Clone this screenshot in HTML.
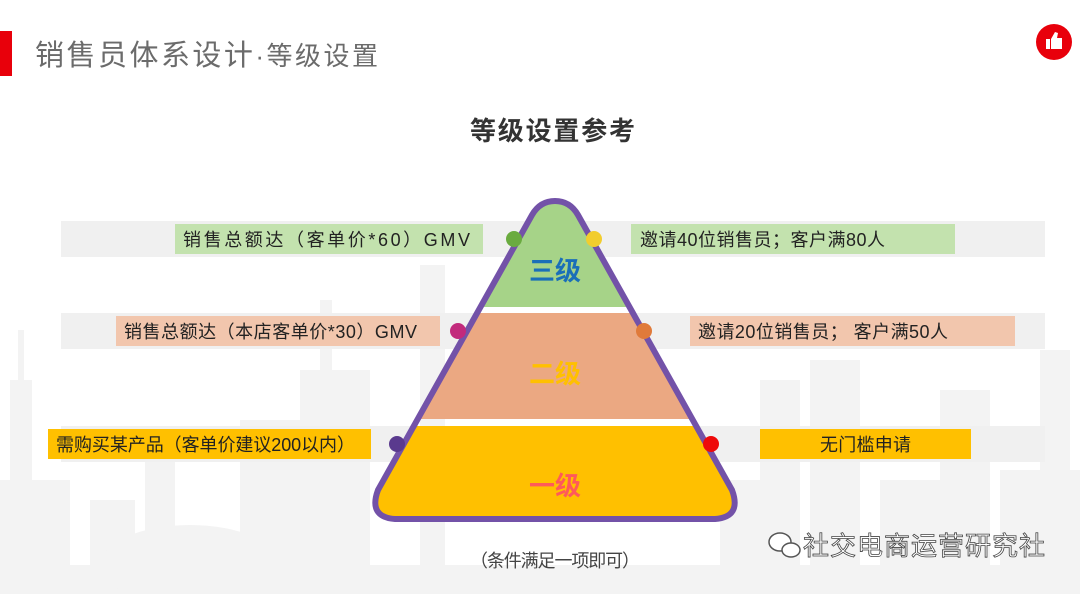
<!DOCTYPE html>
<html><head><meta charset="utf-8"><style>
body{margin:0;width:1080px;height:594px;overflow:hidden;background:#fff;font-family:"Liberation Sans","Noto Sans CJK SC",sans-serif;}
</style></head><body>
<svg width="1080" height="594" viewBox="0 0 1080 594" xmlns="http://www.w3.org/2000/svg" font-family="Liberation Sans, Noto Sans CJK SC, sans-serif">
<g fill="#f3f3f3">
<rect x="0" y="565" width="1080" height="29"/>
<rect x="0" y="480" width="70" height="114"/>
<rect x="10" y="380" width="22" height="214"/>
<rect x="18" y="330" width="6" height="60"/>
<rect x="90" y="500" width="45" height="94"/>
<ellipse cx="190" cy="565" rx="90" ry="40"/>
<rect x="145" y="430" width="30" height="164"/>
<rect x="240" y="420" width="60" height="174"/>
<rect x="300" y="370" width="70" height="224"/>
<rect x="320" y="300" width="12" height="80"/>
<rect x="420" y="265" width="25" height="329"/>
<rect x="720" y="480" width="60" height="114"/>
<rect x="760" y="380" width="40" height="214"/>
<rect x="810" y="360" width="50" height="234"/>
<rect x="880" y="480" width="60" height="114"/>
<rect x="940" y="390" width="50" height="204"/>
<rect x="1000" y="470" width="80" height="124"/>
<rect x="1040" y="350" width="30" height="244"/>
</g>
<rect x="0" y="31" width="12" height="45" fill="#e8000b"/>
<text x="35" y="65" font-size="29" fill="#6b6b6b" textLength="343">销售员体系设计<tspan font-size="26">·等级设置</tspan></text>
<circle cx="1054" cy="42" r="18" fill="#e8000b"/>
<rect x="1046" y="39" width="4" height="10" fill="#fff"/>
<path d="M1051 39 L1055 32 L1058 33 L1057 38 L1062 38 L1062 49 L1051 49 Z" fill="#fff"/>
<text x="470" y="140" font-size="26" font-weight="bold" fill="#333" textLength="165">等级设置参考</text>
<rect x="61" y="221" width="984" height="36" fill="#f0f0f0"/>
<rect x="61" y="313" width="984" height="36" fill="#f0f0f0"/>
<rect x="61" y="426" width="984" height="36" fill="#f0f0f0"/>
<rect x="175" y="224" width="308" height="30" fill="#c3e2ae"/>
<rect x="631" y="224" width="324" height="30" fill="#c3e2ae"/>
<rect x="116" y="316" width="324" height="30" fill="#f2c6ad"/>
<rect x="690" y="316" width="325" height="30" fill="#f2c6ad"/>
<rect x="48" y="429" width="323" height="30" fill="#ffc000"/>
<rect x="760" y="429" width="211" height="30" fill="#ffc000"/>
<g font-size="18" fill="#222">
<text x="183" y="246" textLength="287">销售总额达（客单价*60）GMV</text>
<text x="640" y="246" textLength="245">邀请40位销售员；客户满80人</text>
<text x="124" y="338" textLength="293">销售总额达（本店客单价*30）GMV</text>
<text x="698" y="338" textLength="250">邀请20位销售员； 客户满50人</text>
<text x="56" y="451" textLength="299">需购买某产品（客单价建议200以内）</text>
<text x="820" y="451" textLength="91">无门槛申请</text>
</g>
<defs><clipPath id="pc"><path d="M555 201 Q540 201 532 215 L378 490 Q368 517 395 519 L715 519 Q742 517 732 490 L578 215 Q570 201 555 201 Z"/></clipPath></defs>
<g clip-path="url(#pc)">
<rect x="360" y="195" width="400" height="112" fill="#a6d388"/>
<rect x="360" y="313" width="400" height="106" fill="#eba882"/>
<rect x="360" y="426" width="400" height="100" fill="#ffc000"/>
</g>
<path d="M555 201 Q540 201 532 215 L378 490 Q368 517 395 519 L715 519 Q742 517 732 490 L578 215 Q570 201 555 201 Z" fill="none" stroke="#7352a8" stroke-width="6"/>
<circle cx="514" cy="239" r="8" fill="#6aab3f"/>
<circle cx="594" cy="239" r="8" fill="#f2cd2e"/>
<circle cx="458" cy="331" r="8" fill="#c22a7c"/>
<circle cx="644" cy="331" r="8" fill="#e07a3a"/>
<circle cx="397" cy="444" r="8" fill="#5a3a8e"/>
<circle cx="711" cy="444" r="8" fill="#ee0a0a"/>
<g font-size="26" font-weight="bold" text-anchor="middle">
<text x="555" y="280" fill="#1a6fb8">三级</text>
<text x="555" y="383" fill="#ffc000">二级</text>
<text x="555" y="495" fill="#ff5a5a">一级</text>
</g>
<text x="470" y="567" font-size="18" fill="#444" textLength="170">（条件满足一项即可）</text>
<ellipse cx="780" cy="542" rx="11" ry="9" fill="#fff" stroke="#555" stroke-width="1.5"/>
<ellipse cx="791" cy="550" rx="9" ry="7" fill="#fff" stroke="#555" stroke-width="1.5"/>
<text x="803" y="555" font-size="26" fill="#fff" stroke="#444" stroke-width="0.8" textLength="242">社交电商运营研究社</text>
</svg>
</body></html>
